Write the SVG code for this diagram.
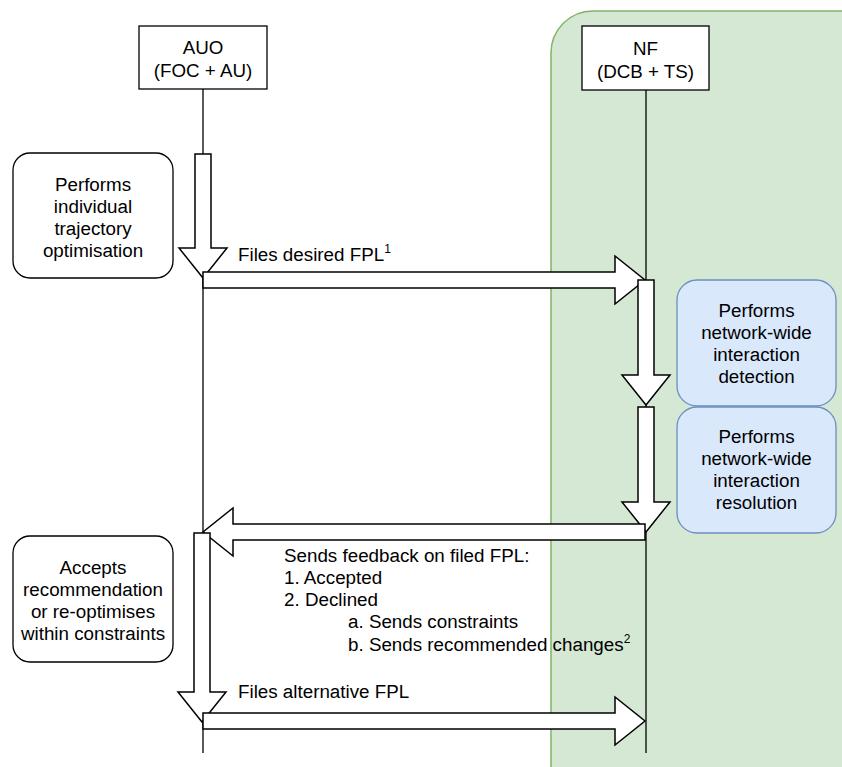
<svg xmlns="http://www.w3.org/2000/svg" width="842" height="767" viewBox="0 0 842 767">
  <style>
    .lbl { font-family: "Liberation Sans", Arial, Helvetica, sans-serif; font-size: 18.8px; fill: #000; }
    .mid { text-anchor: middle; }
    .box { fill: #fff; stroke: #000; stroke-width: 1.3; }
    .rbox { fill: #fff; stroke: #000; stroke-width: 1.3; }
    .bbox { fill: #dae8fc; stroke: #6c8ebf; stroke-width: 1.3; }
    .life { stroke: #000; stroke-width: 1.3; fill: none; }
    .blk { fill: #fff; stroke: #000; stroke-width: 1.5; stroke-linejoin: miter; }
    .sup { font-size: 12px; }
  </style>
  <rect width="842" height="767" fill="#fff"/>

  <!-- NF swimlane background (runs off the right and bottom edges) -->
  <rect id="nf-lane" x="551" y="11" width="330" height="800" rx="42" ry="42" fill="#d5e8d4" stroke="#82b366" stroke-width="1.5"/>

  <!-- lifelines -->
  <g id="lifelines">
    <line class="life" x1="203" y1="89" x2="203" y2="753"/>
    <line class="life" x1="646" y1="90" x2="646" y2="753"/>
  </g>

  <g id="auo">
    <rect class="box" x="139" y="26" width="128" height="63"/>
    <text class="lbl mid" x="203" y="54">AUO</text>
    <text class="lbl mid" x="203" y="77">(FOC + AU)</text>
  </g>

  <g id="nf">
    <rect class="box" x="582" y="26" width="127" height="64"/>
    <text class="lbl mid" x="645.5" y="55">NF</text>
    <text class="lbl mid" x="645.5" y="78">(DCB + TS)</text>
  </g>

  <g id="optimise">
    <rect class="rbox" x="13" y="153" width="160" height="125" rx="17" ry="17"/>
    <text class="lbl mid" x="93" y="191">Performs</text>
    <text class="lbl mid" x="93" y="213">individual</text>
    <text class="lbl mid" x="93" y="235">trajectory</text>
    <text class="lbl mid" x="93" y="257">optimisation</text>
  </g>

  <g id="reoptimise">
    <rect class="rbox" x="13" y="536" width="160" height="126" rx="17" ry="17"/>
    <text class="lbl mid" x="93" y="574">Accepts</text>
    <text class="lbl mid" x="93" y="596">recommendation</text>
    <text class="lbl mid" x="93" y="618">or re-optimises</text>
    <text class="lbl mid" x="93" y="640">within constraints</text>
  </g>

  <g id="detection">
    <rect class="bbox" x="677" y="280" width="159" height="126" rx="20" ry="20"/>
    <text class="lbl mid" x="756.5" y="317">Performs</text>
    <text class="lbl mid" x="756.5" y="339">network-wide</text>
    <text class="lbl mid" x="756.5" y="361">interaction</text>
    <text class="lbl mid" x="756.5" y="383">detection</text>
  </g>

  <g id="resolution">
    <rect class="bbox" x="677" y="407" width="159" height="126" rx="20" ry="20"/>
    <text class="lbl mid" x="756.5" y="443">Performs</text>
    <text class="lbl mid" x="756.5" y="465">network-wide</text>
    <text class="lbl mid" x="756.5" y="487">interaction</text>
    <text class="lbl mid" x="756.5" y="509">resolution</text>
  </g>

  <!-- block-arrow connectors, drawn in flow order -->
  <g id="connectors">
    <polygon class="blk" points="195,154 211,154 211,248 227,248 203,278 179,248 195,248"/>
    <polygon class="blk" points="203,272 615,272 615,256 645,280 615,304 615,288 203,288"/>
    <polygon class="blk" points="638,280 654,280 654,375 670,375 646,405 622,375 638,375"/>
    <polygon class="blk" points="638,407 654,407 654,502 670,502 646,532 622,502 638,502"/>
    <polygon class="blk" points="645,524 233,524 233,508 203,532 233,556 233,540 645,540"/>
    <polygon class="blk" points="194,533 210,533 210,692 226,692 202,722 178,692 194,692"/>
    <polygon class="blk" points="203,713 615,713 615,697 645,721 615,745 615,729 203,729"/>
  </g>

  <g id="connector-labels">
    <text class="lbl" x="238" y="261">Files desired FPL<tspan class="sup" dy="-8">1</tspan></text>
    <text class="lbl" x="284" y="562">Sends feedback on filed FPL:</text>
    <text class="lbl" x="284" y="584">1. Accepted</text>
    <text class="lbl" x="284" y="606">2. Declined</text>
    <text class="lbl" x="348" y="628">a. Sends constraints</text>
    <text class="lbl" x="348" y="651">b. Sends recommended changes<tspan class="sup" dy="-8">2</tspan></text>
    <text class="lbl" x="238" y="698">Files alternative FPL</text>
  </g>
</svg>
